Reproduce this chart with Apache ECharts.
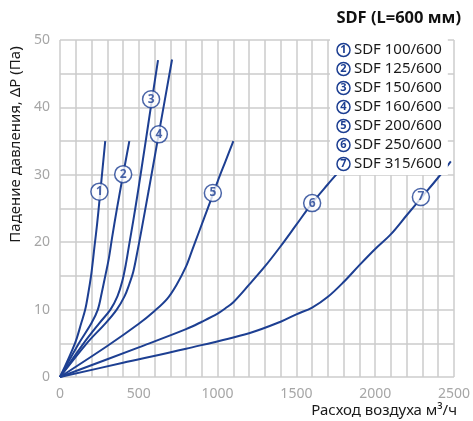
<!DOCTYPE html>
<html><head><meta charset="utf-8">
<script src="https://cdn.jsdelivr.net/npm/echarts@6/dist/echarts.min.js"></script>
<style>html,body{margin:0;padding:0;background:#fff}#c{width:473px;height:421px}</style>
</head><body><div id="c"></div>
<script>
const seriesNames = ['SDF 100/600','SDF 125/600','SDF 150/600','SDF 160/600','SDF 200/600','SDF 250/600','SDF 315/600'];
const c1 = [[0,0],[95,5],[135,8],[160,10],[180,12.5],[197,15],[210,17.5],[220,19.6],[235,22.6],[250,26.1],[287,35]];
const c2 = [[0,0],[120,5],[200,8],[240,10],[265,12.5],[290,15.3],[310,17.6],[330,20.6],[360,24.8],[401,30.1],[440,35]];
const c3 = [[0,0],[150,5],[250,8],[320,10],[365,12],[395,14.2],[420,17],[440,19.8],[465,23.2],[496,27.7],[540,34.4],[580,40.6],[622,47]];
const c4 = [[0,0],[170,5],[290,8],[360,10],[410,12],[440,13.8],[465,15.6],[496,19.2],[517,21.8],[563,27.7],[627,36.1],[711,47.1]];
const c5 = [[0,0],[300,4.6],[500,7.9],[600,9.8],[680,11.6],[740,13.7],[800,16.4],[840,18.9],[880,21.4],[950,25.8],[1000,29],[1050,32],[1100,35]];
const c6 = [[0,0],[500,4.4],[800,7.1],[900,8.2],[1000,9.4],[1050,10.2],[1100,11.1],[1200,13.7],[1300,16.4],[1400,19.4],[1500,22.6],[1600,25.8],[1700,28.6],[1760,30.2]];
const c7 = [[0,0],[400,2.1],[800,4.2],[1200,6.5],[1400,8.2],[1500,9.3],[1600,10.3],[1700,11.9],[1800,14.1],[1900,16.6],[2000,19],[2100,21.2],[2200,24],[2300,26.8],[2400,29.6],[2480,32]];
const curves = [c1,c2,c3,c4,c5,c6,c7];
const labelPoints = [[250,27.5],[401,30.1],[578,41.2],[627,36],[970,27.3],[1600,25.8],[2290,26.7]];
const labelNumbers = ['1','2','3','4','5','6','7'];
const chartTitle = 'SDF (L=600 мм)';
const xName = 'Расход воздуха м³/ч';
const yName = 'Падение давления, ΔP (Па)';

const BLUE = '#1d3f92';
const FONT = 'Noto Sans';
const chart = echarts.init(document.getElementById('c'));
const series = [];
curves.forEach((d, i) => {
  series.push({
    name: seriesNames[i], type: 'line', data: d, smooth: 0.35, showSymbol: false,
    lineStyle: {color: BLUE, width: 2}, itemStyle: {color: BLUE}, z: 3, silent: true
  });
});
labelPoints.forEach((p, i) => {
  series.push({
    type: 'scatter', data: [p], symbol: 'circle', symbolSize: 17, z: 5, silent: true,
    itemStyle: {color: '#fff', borderColor: BLUE, borderWidth: 1.5},
    label: {show: true, position: 'inside', formatter: labelNumbers[i], color: BLUE,
      fontSize: 12, fontWeight: 'bold', fontFamily: FONT}
  });
});
chart.setOption({
  animation: false,
  textStyle: {fontFamily: FONT},
  title: {text: chartTitle, right: 7, top: 5,
    textStyle: {fontSize: 16.5, fontWeight: 'bold', color: '#111', fontFamily: FONT}},
  grid: {left: 60, right: 18, top: 40, bottom: 44},
  legend: {
    data: seriesNames, orient: 'vertical', left: 330, top: 39, selectedMode: false,
    icon: 'none', itemWidth: 0, itemHeight: 14, itemGap: 1, padding: [2, 6, 2, 2],
    backgroundColor: '#fff', z: 10,
    formatter: name => '{c|' + (seriesNames.indexOf(name) + 1) + '} ' + name,
    textStyle: {fontSize: 15, color: '#1a1a1a', fontFamily: FONT, lineHeight: 18,
      rich: {c: {width: 13, height: 13, borderRadius: 8, borderWidth: 1.5, borderColor: BLUE,
        color: BLUE, align: 'center', fontSize: 11, fontWeight: 'bold', lineHeight: 18, fontFamily: FONT}}}
  },
  xAxis: {
    type: 'value', min: 0, max: 2500, interval: 500,
    name: xName, nameLocation: 'end', nameGap: 3,
    nameTextStyle: {align: 'right', verticalAlign: 'top', padding: [26, 0, 0, 0], fontSize: 15, color: '#1a1a1a'},
    axisLine: {show: false}, axisTick: {show: false},
    axisLabel: {color: '#a6a6a6', fontSize: 14, margin: 10, formatter: v => String(v)},
    splitLine: {show: true, lineStyle: {color: '#cccccc', width: 1.5}},
    minorTick: {show: false, splitNumber: 5},
    minorSplitLine: {show: true, lineStyle: {color: '#cccccc', width: 1.5}}
  },
  yAxis: {
    type: 'value', min: 0, max: 50, interval: 10,
    name: yName, nameLocation: 'middle', nameGap: 34,
    nameTextStyle: {fontSize: 15, color: '#1a1a1a', padding: [0, 0, 0, 128]},
    axisLine: {show: false}, axisTick: {show: false},
    axisLabel: {color: '#a6a6a6', fontSize: 14, margin: 10, formatter: v => String(v)},
    splitLine: {show: true, lineStyle: {color: '#cccccc', width: 1.5}},
    minorTick: {show: false, splitNumber: 2},
    minorSplitLine: {show: true, lineStyle: {color: '#cccccc', width: 1.5}}
  },
  series: series
});
</script></body></html>
